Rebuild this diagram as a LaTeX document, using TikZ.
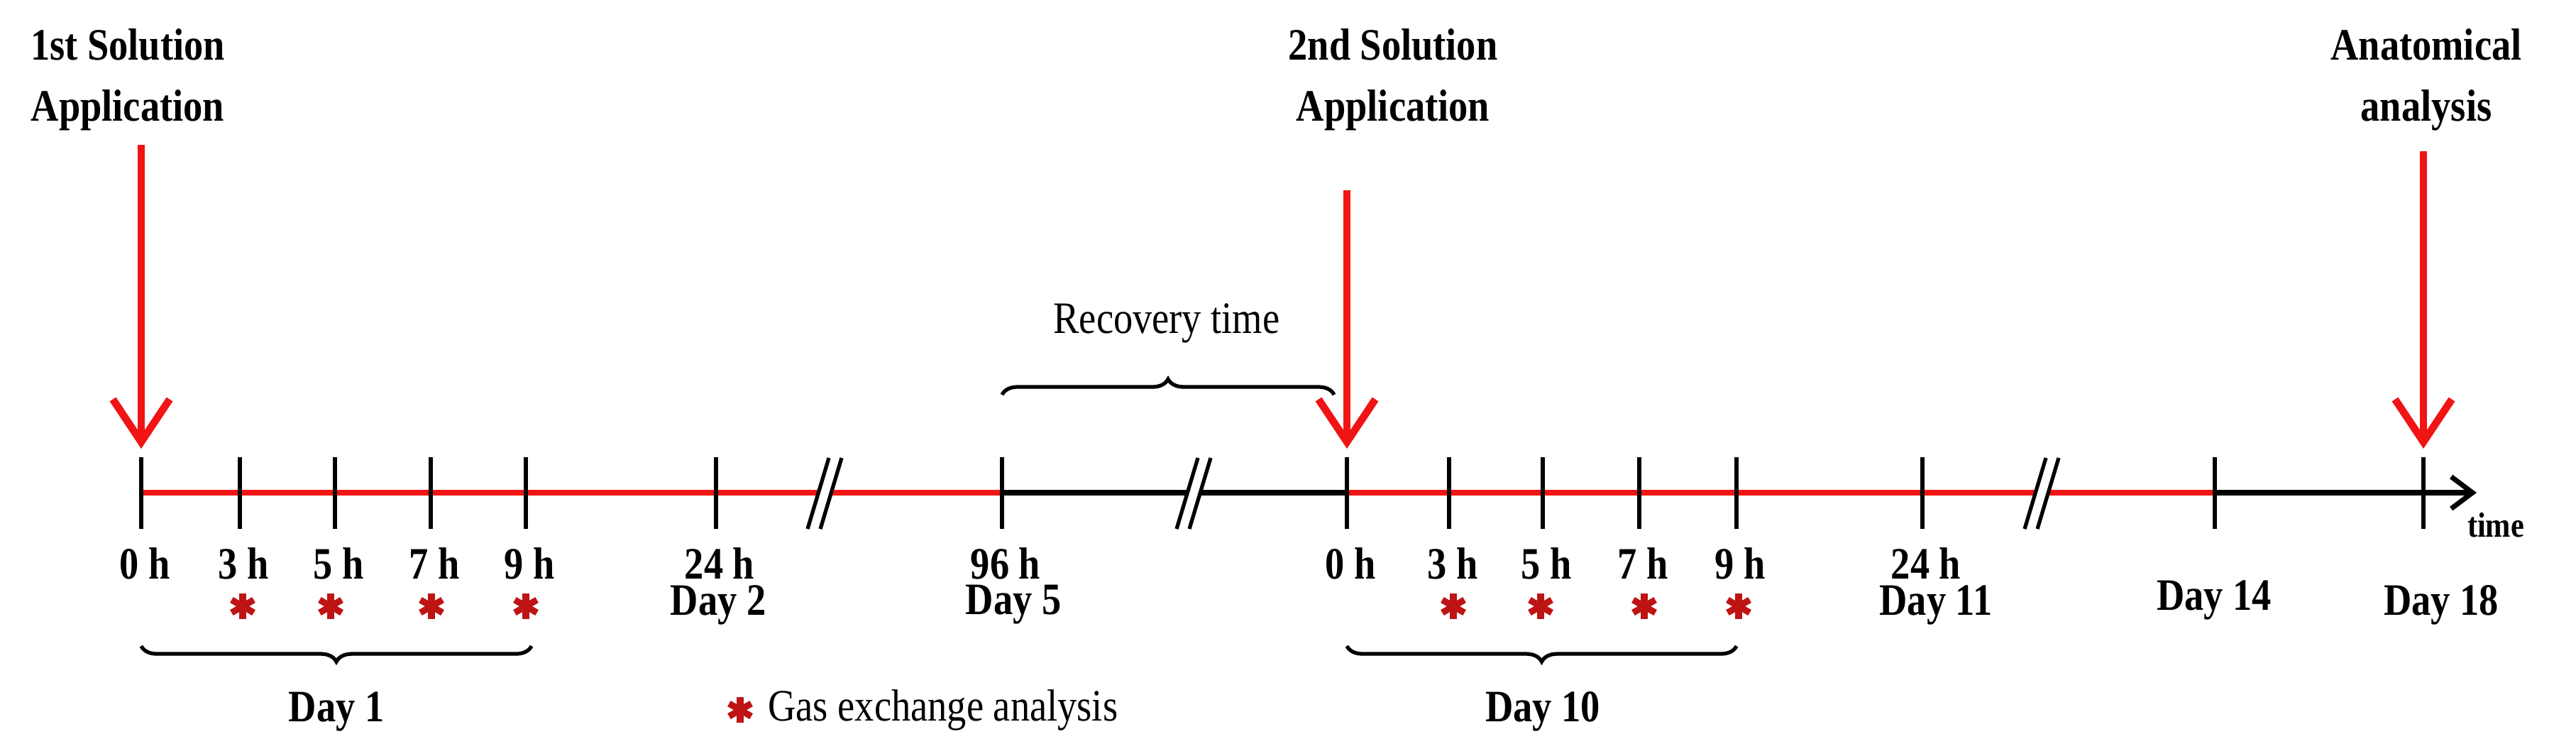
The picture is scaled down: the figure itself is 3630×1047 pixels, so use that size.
\documentclass[tikz,border=0pt]{standalone}
\usepackage{fontspec}
\setmainfont{Liberation Serif}[FakeStretch=0.86]
\usetikzlibrary{arrows.meta,decorations.pathreplacing}
\definecolor{ared}{RGB}{240,20,20}
\definecolor{dred}{RGB}{190,20,20}
\begin{document}
\begin{tikzpicture}[x=0.01cm,y=-0.01cm,
  lab/.style={font=\fontsize{18}{24.5}\selectfont\bfseries,align=center},
  tick/.style={line width=1.8pt},
  redl/.style={ared,line width=2.2pt},
  blk/.style={black,line width=2.2pt},
  bigarr/.style={ared,line width=3pt,-{Straight Barb[length=0.6cm,width=0.8cm,line width=3pt]}},
  brc/.style={decorate,decoration={brace,amplitude=0.22cm},line width=1.5pt},
  brcm/.style={decorate,decoration={brace,amplitude=0.22cm,mirror},line width=1.5pt},
  brk/.style={line width=1.5pt}]
\useasboundingbox (0,0) rectangle (3630,1047);
\foreach \n/\x in {a0/199,a3/338,a5/472,a7/607,a9/741,a24/1009,a96/1412,b0/1898,b3/2042,b5/2174,b7/2310,b9/2447,b24/2709,b14/3121,b18/3415}{
  \coordinate (\n) at (\x,694);
  \coordinate (\n t) at (\x,644);
  \coordinate (\n b) at (\x,745);
}
\coordinate (end) at (3490,694);
\draw[redl] (a0) -- (a96);
\draw[blk] (a96) -- (b0);
\draw[redl] (b0) -- (b14);
\draw[blk,-{Straight Barb[length=0.3cm,width=0.45cm,line width=2pt]}] (b14) -- (end);
\foreach \n in {a0,a3,a5,a7,a9,a24,a96,b0,b3,b5,b7,b9,b24,b14,b18}{\draw[tick] (\n t) -- (\n b);}
\foreach \c in {1160,1680,2875}{
  \fill[white] (\c-22,745) -- (\c+8,645) -- (\c+26,645) -- (\c-4,745) -- cycle;
  \draw[brk] (\c-22,745) -- (\c+8,645);
  \draw[brk] (\c-4,745) -- (\c+26,645);
}
\node[font=\fontsize{14}{17}\selectfont\bfseries] (time) at (3517,740) {time};
\foreach \x/\t/\n in {199/0 h/l0,338/3 h/l3,472/5 h/l5,607/7 h/l7,741/9 h/l9,1009/24 h/l24,1412/96 h/l96,1898/0 h/m0,2042/3 h/m3,2174/5 h/m5,2310/7 h/m7,2447/9 h/m9,2709/24 h/m24}{
  \node[lab] (\n) at (\x+5,794) {\t};
}
\node[lab] (d2) at (1012,852) {Day 2};
\node[lab] (d5) at (1428,852) {Day 5};
\node[lab] (d11) at (2728,852) {Day 11};
\node[lab] (d14) at (3120,845) {Day 14};
\node[lab] (d18) at (3440,852) {Day 18};
\newcommand{\myast}[2]{\begin{scope}[shift={(#1,#2)}]\foreach \a in {90,150,30}{\draw[dred,line width=2.6pt] (\a:18)--(\a+180:18);}\end{scope}}
\foreach \x in {342,466,608,741,2048,2171,2317,2450}{\myast{\x}{854}}
\myast{1043}{1000}
\node[font=\fontsize{18}{22}\selectfont,anchor=west] (gas) at (1070,1000) {Gas exchange analysis};
\draw[brcm] (199,910) -- (749,910);
\node[lab] (day1) at (474,1002) {Day 1};
\draw[brcm] (1898,910) -- (2447,910);
\node[lab] (day10) at (2174,1002) {Day 10};
\draw[brc] (1412,556) -- (1880,556);
\node[font=\fontsize{18}{22}\selectfont] (rec) at (1644,455) {Recovery time};
\node[lab] (h1) at (180,112) {1st Solution\\Application};
\node[lab] (h2) at (1963,112) {2nd Solution\\Application};
\node[lab] (h3) at (3419,112) {Anatomical\\analysis};
\coordinate (s1) at (199,204);
\coordinate (s2) at (1898,268);
\coordinate (s3) at (3415,213);
\coordinate (e1) at (199,632);
\coordinate (e2) at (1898,632);
\coordinate (e3) at (3415,632);
\draw[bigarr] (s1) -- (e1);
\draw[bigarr] (s2) -- (e2);
\draw[bigarr] (s3) -- (e3);
\end{tikzpicture}
\end{document}
